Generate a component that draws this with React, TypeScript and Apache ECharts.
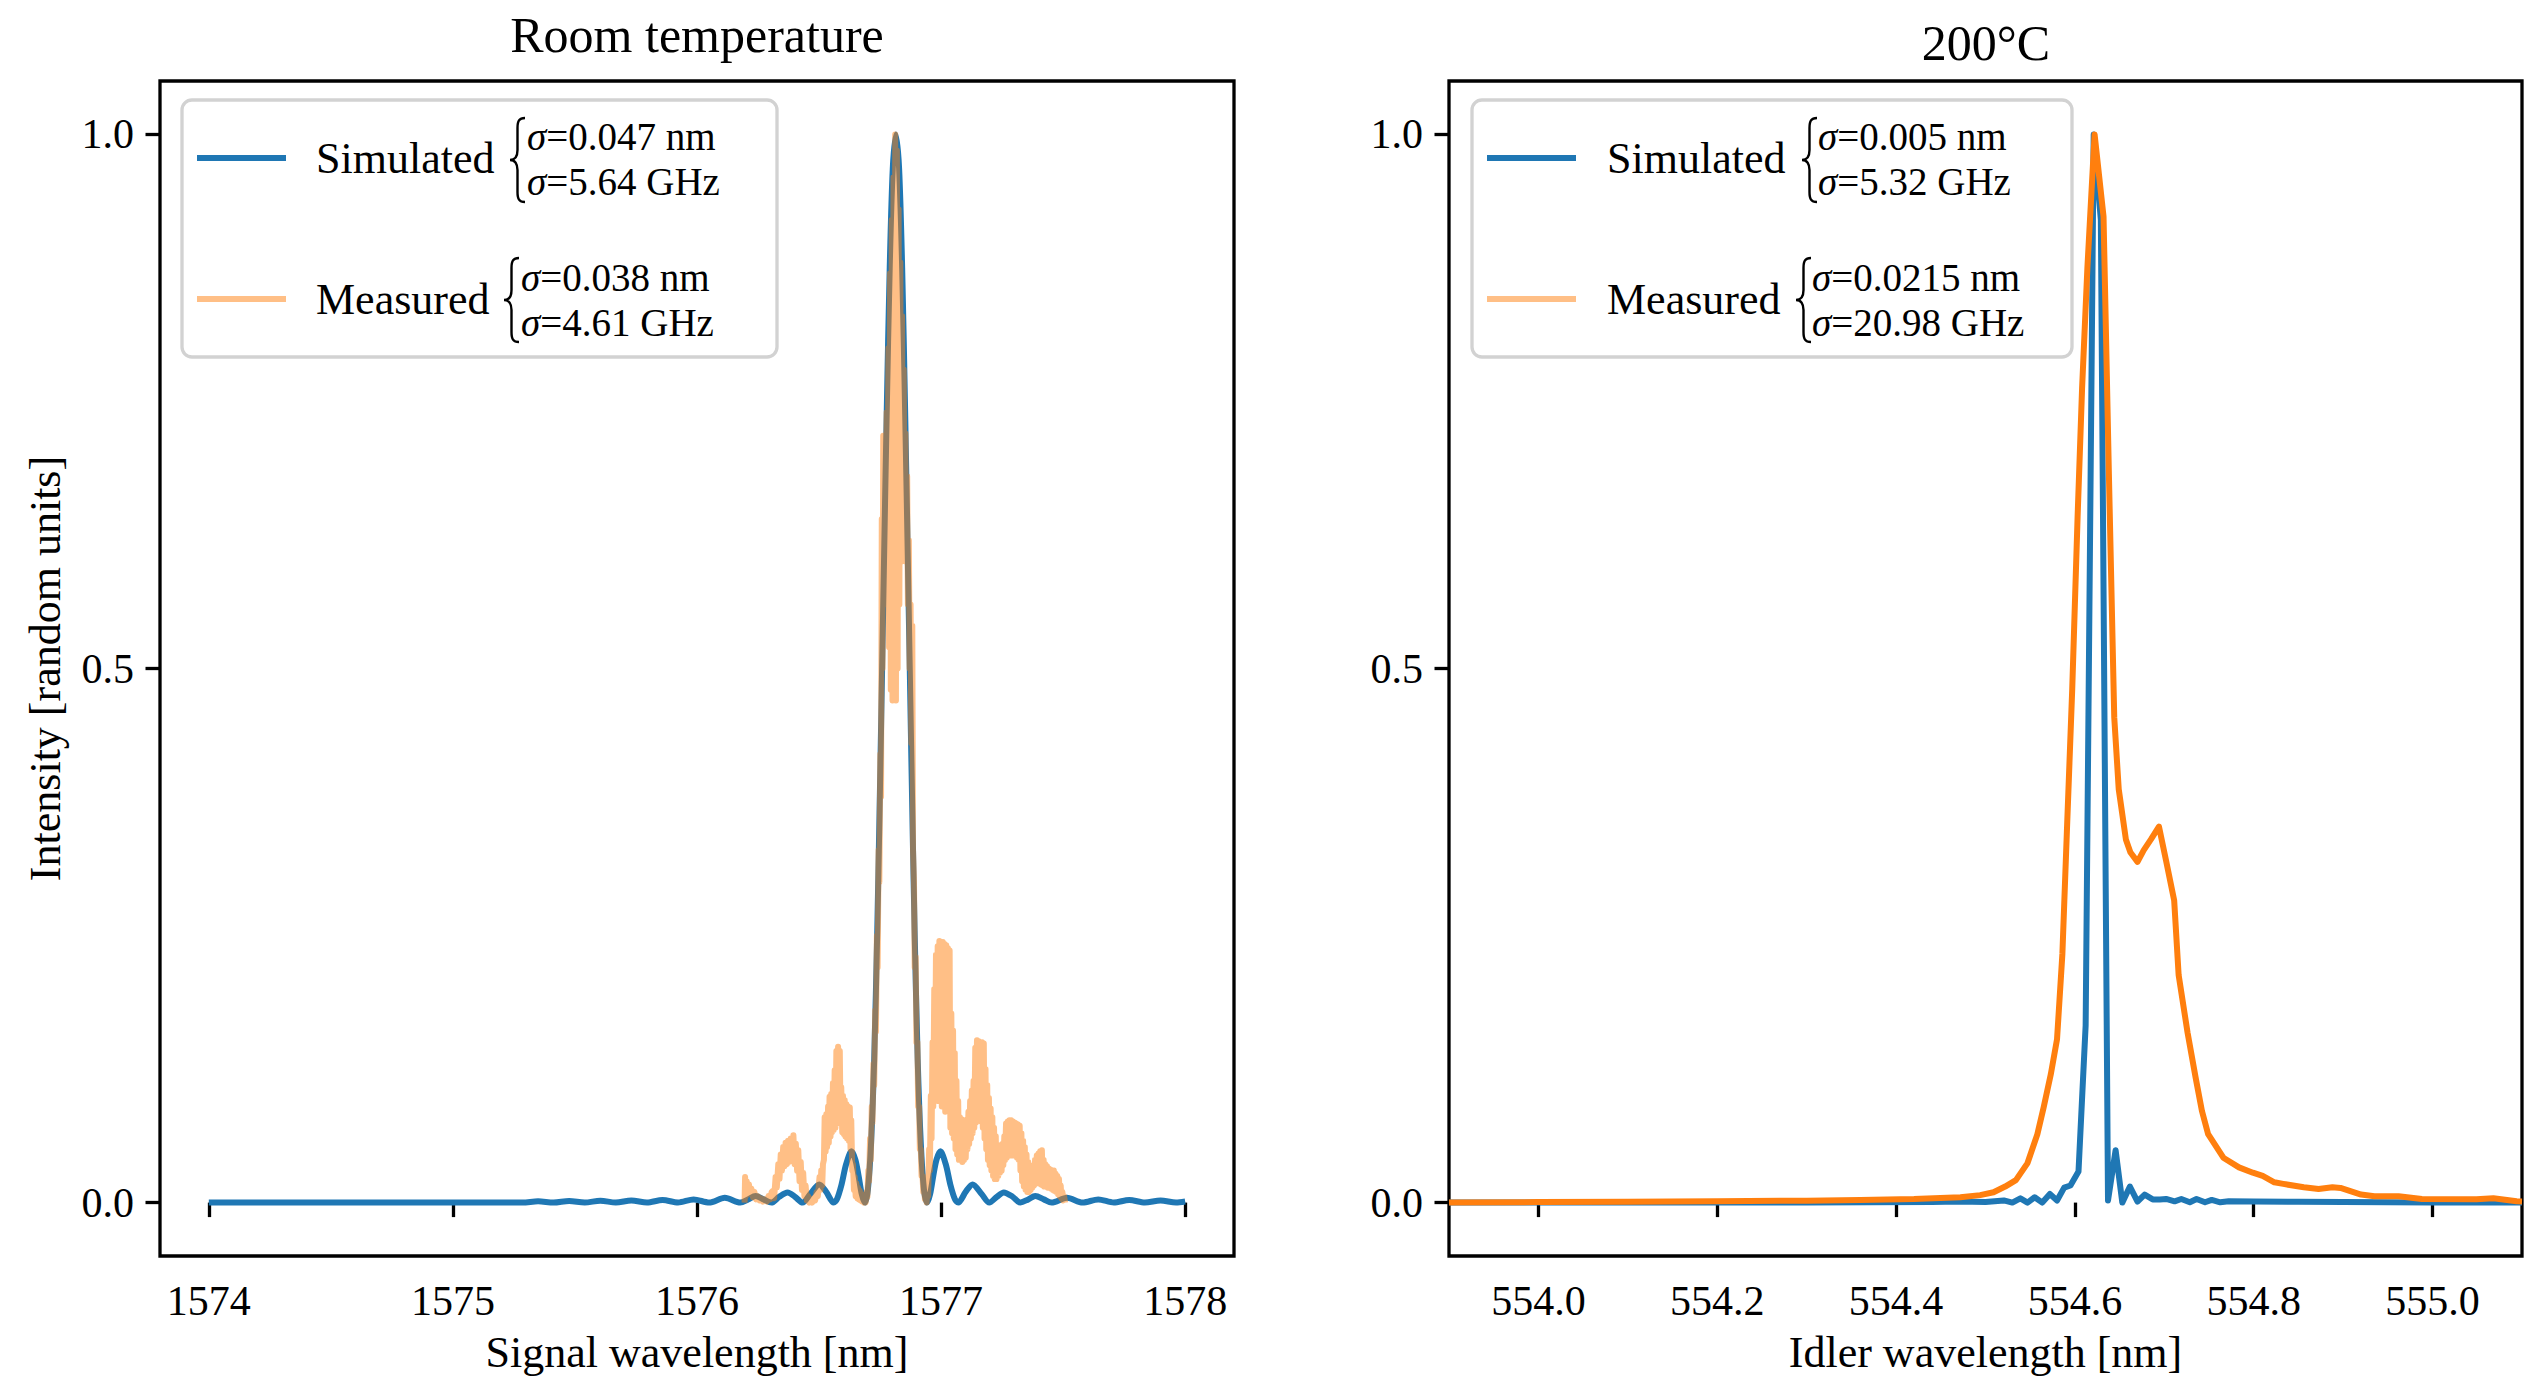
import React, { useEffect, useRef } from "react";
import * as echarts from "echarts";

const FONT = "'Liberation Serif', 'Times New Roman', serif";
const BLUE = "#1f77b4";
const ORANGE = "#ff7f0e";
const ORANGE_LIGHT = "rgba(255,127,14,0.5)";

const titles = ["Room temperature", "200°C"];
const xNames = ["Signal wavelength [nm]", "Idler wavelength [nm]"];
const yName = "Intensity [random units]";
const leftXTicks = [1574, 1575, 1576, 1577, 1578];
const rightXTicks = [554.0, 554.2, 554.4, 554.6, 554.8, 555.0];
const yTicks = [0, 0.5, 1.0];

const legendLeft = {
  sim: ["σ", "=0.047 nm", "=5.64 GHz"],
  meas: ["σ", "=0.038 nm", "=4.61 GHz"],
};
const legendRight = {
  sim: ["σ", "=0.005 nm", "=5.32 GHz"],
  meas: ["σ", "=0.0215 nm", "=20.98 GHz"],
};

// Left panel: simulated (wavelength, intensity)
const simLeft: [number, number][] = [
  [1574.0, 0], [1574.5, 0], [1575.0, 0], [1575.22, 0], [1575.285, 0],
  [1575.349, 0.0012], [1575.4125, 0], [1575.476, 0.0015], [1575.54, 0],
  [1575.604, 0.0018], [1575.6675, 0], [1575.731, 0.002], [1575.795, 0],
  [1575.859, 0.0025], [1575.9225, 0], [1575.986, 0.003], [1576.05, 0],
  [1576.114, 0.0045], [1576.1775, 0], [1576.209, 0.003], [1576.24, 0.0062],
  [1576.273, 0.003], [1576.305, 0], [1576.337, 0.0055], [1576.371, 0.0095],
  [1576.401, 0.0055], [1576.4325, 0], [1576.464, 0.008], [1576.501, 0.017],
  [1576.528, 0.0105], [1576.56, 0], [1576.573, 0.003], [1576.592, 0.0168],
  [1576.611, 0.036], [1576.633, 0.048], [1576.649, 0.04], [1576.662, 0.025],
  [1576.675, 0.008], [1576.6875, 0], [1576.7, 0.0119], [1576.713, 0.0547],
  [1576.726, 0.135], [1576.7385, 0.255], [1576.751, 0.405], [1576.764, 0.573],
  [1576.777, 0.737], [1576.7895, 0.875], [1576.802, 0.968], [1576.815, 1.0],
  [1576.828, 0.968], [1576.8405, 0.875], [1576.853, 0.737], [1576.866, 0.573],
  [1576.879, 0.405], [1576.8915, 0.255], [1576.904, 0.135], [1576.917, 0.0547],
  [1576.93, 0.0119], [1576.9425, 0], [1576.955, 0.008], [1576.968, 0.025],
  [1576.981, 0.04], [1576.997, 0.048], [1577.019, 0.036], [1577.038, 0.0168],
  [1577.057, 0.003], [1577.07, 0], [1577.102, 0.0105], [1577.129, 0.017],
  [1577.166, 0.008], [1577.1975, 0], [1577.229, 0.0055], [1577.257, 0.0095],
  [1577.293, 0.0055], [1577.325, 0], [1577.357, 0.003], [1577.386, 0.0062],
  [1577.421, 0.003], [1577.4525, 0], [1577.516, 0.0045], [1577.58, 0],
  [1577.644, 0.003], [1577.7075, 0], [1577.771, 0.0025], [1577.835, 0],
  [1577.899, 0.002], [1577.9625, 0], [1578.0, 0.001],
];

// Left panel: measured (noisy) spectrum
const measLeft: [number, number][] = [
  [1576.195, 0.0], [1576.197, 0.024], [1576.2, 0.006], [1576.204, 0.02], [1576.208, 0.01],
  [1576.213, 0.017], [1576.218, 0.008], [1576.223, 0.013], [1576.229, 0.005], [1576.235, 0.01],
  [1576.242, 0.003], [1576.249, 0.006], [1576.256, 0.002], [1576.263, 0.004], [1576.27, 0.001],
  [1576.278, 0.003], [1576.286, 0.001], [1576.293, 0.006], [1576.3, 0.003], [1576.306, 0.01],
  [1576.311, 0.011], [1576.316, 0.004], [1576.322, 0.024], [1576.327, 0.014], [1576.333, 0.036],
  [1576.338, 0.022], [1576.343, 0.045], [1576.348, 0.03], [1576.353, 0.052], [1576.358, 0.034],
  [1576.363, 0.056], [1576.368, 0.036], [1576.373, 0.058], [1576.378, 0.038], [1576.384, 0.06],
  [1576.389, 0.04], [1576.395, 0.063], [1576.4, 0.036], [1576.405, 0.055], [1576.41, 0.03],
  [1576.415, 0.049], [1576.42, 0.02], [1576.425, 0.038], [1576.43, 0.012], [1576.435, 0.028],
  [1576.44, 0.006], [1576.445, 0.016], [1576.45, 0.002], [1576.455, 0.006], [1576.46, 0.0],
  [1576.466, 0.003], [1576.472, 0.0], [1576.478, 0.004], [1576.484, 0.002], [1576.49, 0.01],
  [1576.495, 0.006], [1576.502, 0.024], [1576.506, 0.012], [1576.509, 0.03], [1576.513, 0.016],
  [1576.516, 0.036], [1576.52, 0.04], [1576.523, 0.08], [1576.527, 0.048], [1576.53, 0.083],
  [1576.533, 0.052], [1576.537, 0.09], [1576.54, 0.056], [1576.543, 0.099], [1576.547, 0.062],
  [1576.55, 0.102], [1576.553, 0.066], [1576.557, 0.112], [1576.56, 0.068], [1576.564, 0.124],
  [1576.567, 0.07], [1576.571, 0.142], [1576.574, 0.074], [1576.578, 0.146], [1576.581, 0.076],
  [1576.585, 0.142], [1576.588, 0.08], [1576.591, 0.108], [1576.595, 0.066], [1576.598, 0.1],
  [1576.602, 0.064], [1576.605, 0.096], [1576.608, 0.062], [1576.612, 0.092], [1576.615, 0.06],
  [1576.619, 0.09], [1576.622, 0.058], [1576.626, 0.089], [1576.629, 0.05], [1576.632, 0.077],
  [1576.636, 0.03], [1576.639, 0.036], [1576.643, 0.012], [1576.646, 0.024], [1576.65, 0.006],
  [1576.653, 0.018], [1576.657, 0.004], [1576.66, 0.014], [1576.664, 0.003], [1576.667, 0.011],
  [1576.67, 0.002], [1576.673, 0.008], [1576.677, 0.001], [1576.68, 0.004], [1576.684, 0.0],
  [1576.688, 0.004], [1576.691, 0.0], [1576.695, 0.01], [1576.698, 0.005], [1576.702, 0.03],
  [1576.705, 0.02], [1576.709, 0.06], [1576.712, 0.04], [1576.716, 0.09], [1576.719, 0.075],
  [1576.723, 0.13], [1576.726, 0.11], [1576.73, 0.18], [1576.733, 0.16], [1576.737, 0.25],
  [1576.74, 0.22], [1576.744, 0.33], [1576.747, 0.3], [1576.751, 0.42], [1576.754, 0.38],
  [1576.757, 0.64], [1576.76, 0.5], [1576.763, 0.718], [1576.766, 0.56], [1576.77, 0.68],
  [1576.773, 0.59], [1576.777, 0.74], [1576.78, 0.56], [1576.784, 0.8], [1576.787, 0.52],
  [1576.791, 0.87], [1576.794, 0.48], [1576.798, 0.92], [1576.801, 0.47], [1576.805, 0.96],
  [1576.808, 0.48], [1576.812, 1.0], [1576.815, 0.47], [1576.819, 0.985], [1576.822, 0.5],
  [1576.826, 0.93], [1576.829, 0.56], [1576.833, 0.88], [1576.836, 0.6], [1576.84, 0.83],
  [1576.843, 0.64], [1576.847, 0.78], [1576.85, 0.62], [1576.854, 0.72], [1576.857, 0.6],
  [1576.861, 0.68], [1576.864, 0.56], [1576.868, 0.62], [1576.871, 0.5], [1576.875, 0.56],
  [1576.878, 0.43], [1576.882, 0.54], [1576.885, 0.33], [1576.889, 0.3], [1576.892, 0.22],
  [1576.896, 0.23], [1576.899, 0.15], [1576.903, 0.15], [1576.906, 0.09], [1576.91, 0.09],
  [1576.913, 0.05], [1576.917, 0.05], [1576.92, 0.025], [1576.924, 0.025], [1576.927, 0.01],
  [1576.931, 0.012], [1576.934, 0.003], [1576.938, 0.005], [1576.941, 0.0], [1576.944, 0.017],
  [1576.947, 0.006], [1576.951, 0.05], [1576.954, 0.03], [1576.958, 0.1], [1576.961, 0.06],
  [1576.965, 0.15], [1576.968, 0.09], [1576.972, 0.2], [1576.975, 0.1], [1576.979, 0.232],
  [1576.982, 0.11], [1576.986, 0.24], [1576.989, 0.095], [1576.993, 0.245], [1576.996, 0.1],
  [1577.0, 0.244], [1577.003, 0.09], [1577.007, 0.244], [1577.01, 0.1], [1577.014, 0.242],
  [1577.017, 0.085], [1577.021, 0.241], [1577.024, 0.09], [1577.028, 0.238], [1577.031, 0.095],
  [1577.035, 0.236], [1577.038, 0.07], [1577.042, 0.177], [1577.045, 0.065], [1577.049, 0.161],
  [1577.052, 0.06], [1577.056, 0.14], [1577.059, 0.05], [1577.063, 0.114], [1577.066, 0.045],
  [1577.07, 0.095], [1577.073, 0.04], [1577.077, 0.08], [1577.08, 0.04], [1577.084, 0.078],
  [1577.087, 0.038], [1577.091, 0.077], [1577.094, 0.04], [1577.098, 0.077], [1577.101, 0.042],
  [1577.105, 0.077], [1577.108, 0.05], [1577.112, 0.085], [1577.115, 0.055], [1577.119, 0.095],
  [1577.122, 0.06], [1577.126, 0.105], [1577.129, 0.065], [1577.133, 0.114], [1577.136, 0.07],
  [1577.14, 0.145], [1577.143, 0.075], [1577.147, 0.152], [1577.15, 0.08], [1577.154, 0.151],
  [1577.157, 0.078], [1577.161, 0.15], [1577.164, 0.076], [1577.168, 0.15], [1577.171, 0.07],
  [1577.175, 0.149], [1577.178, 0.06], [1577.182, 0.125], [1577.185, 0.05], [1577.189, 0.11],
  [1577.192, 0.04], [1577.196, 0.098], [1577.199, 0.035], [1577.203, 0.088], [1577.206, 0.03],
  [1577.21, 0.08], [1577.213, 0.025], [1577.217, 0.07], [1577.22, 0.022], [1577.224, 0.062],
  [1577.227, 0.022], [1577.231, 0.054], [1577.234, 0.025], [1577.238, 0.053], [1577.241, 0.028],
  [1577.245, 0.054], [1577.248, 0.03], [1577.252, 0.055], [1577.255, 0.035], [1577.259, 0.062],
  [1577.262, 0.04], [1577.266, 0.074], [1577.269, 0.042], [1577.273, 0.076], [1577.276, 0.045],
  [1577.28, 0.077], [1577.283, 0.045], [1577.287, 0.077], [1577.29, 0.044], [1577.294, 0.076],
  [1577.297, 0.045], [1577.301, 0.075], [1577.304, 0.044], [1577.308, 0.074], [1577.311, 0.042],
  [1577.315, 0.073], [1577.318, 0.04], [1577.322, 0.072], [1577.325, 0.03], [1577.329, 0.065],
  [1577.332, 0.02], [1577.336, 0.058], [1577.339, 0.015], [1577.343, 0.052], [1577.346, 0.012],
  [1577.35, 0.045], [1577.353, 0.01], [1577.357, 0.038], [1577.36, 0.01], [1577.364, 0.033],
  [1577.367, 0.012], [1577.371, 0.03], [1577.374, 0.014], [1577.378, 0.035], [1577.381, 0.016],
  [1577.385, 0.04], [1577.388, 0.018], [1577.392, 0.044], [1577.395, 0.018], [1577.399, 0.046],
  [1577.402, 0.018], [1577.406, 0.048], [1577.409, 0.017], [1577.413, 0.049], [1577.416, 0.016],
  [1577.42, 0.04], [1577.423, 0.015], [1577.427, 0.036], [1577.43, 0.015], [1577.434, 0.034],
  [1577.437, 0.014], [1577.441, 0.032], [1577.444, 0.014], [1577.448, 0.031], [1577.451, 0.013],
  [1577.455, 0.03], [1577.458, 0.012], [1577.462, 0.03], [1577.465, 0.011], [1577.469, 0.027],
  [1577.472, 0.01], [1577.476, 0.025], [1577.479, 0.008], [1577.483, 0.022], [1577.486, 0.006],
  [1577.49, 0.016], [1577.493, 0.004], [1577.497, 0.01], [1577.5, 0.002], [1577.504, 0.006],
  [1577.508, 0.0],
];

// Right panel: simulated
const simRight: [number, number][] = [
  [553.9, 0], [554.3, 0], [554.44, 0.0005], [554.47, 0.001], [554.5, 0.0005],
  [554.5205, 0.002], [554.53, 0], [554.539, 0.004], [554.547, 0], [554.555, 0.005],
  [554.5635, 0], [554.572, 0.008], [554.58, 0.002], [554.588, 0.014], [554.595, 0.016],
  [554.604, 0.029], [554.612, 0.166], [554.621, 1.0], [554.629, 0.92], [554.637, 0.002],
  [554.6455, 0.049], [554.653, 0], [554.6615, 0.015], [554.67, 0.001], [554.678, 0.0075],
  [554.687, 0.003], [554.695, 0.003], [554.702, 0.0034], [554.7115, 0.0012], [554.719, 0.0034],
  [554.7285, 0.0003], [554.736, 0.0034], [554.7455, 0.0003], [554.753, 0.0025], [554.7625, 0.0003],
  [554.772, 0.0012], [554.8, 0.001], [554.85, 0.0008], [554.95, 0.0003], [555.0, 0.0002],
  [555.1, 0],
];

// Right panel: measured
const measRight: [number, number][] = [
  [553.9, 0.0], [554.0, 0.0005], [554.1, 0.0008], [554.2, 0.0012], [554.3, 0.0018],
  [554.36, 0.0025], [554.42, 0.0033], [554.472, 0.005], [554.494, 0.007], [554.509, 0.0097],
  [554.522, 0.015], [554.534, 0.021], [554.547, 0.037], [554.558, 0.064], [554.565, 0.089],
  [554.573, 0.12], [554.58, 0.153], [554.586, 0.233], [554.591, 0.347], [554.597, 0.481],
  [554.603, 0.642], [554.608, 0.762], [554.614, 0.876], [554.622, 1.0], [554.632, 0.923],
  [554.638, 0.682], [554.644, 0.454], [554.649, 0.387], [554.657, 0.34], [554.662, 0.328],
  [554.67, 0.319], [554.677, 0.33], [554.685, 0.34], [554.694, 0.352], [554.702, 0.32],
  [554.711, 0.283], [554.716, 0.213], [554.726, 0.159], [554.735, 0.117], [554.742, 0.086],
  [554.749, 0.064], [554.766, 0.042], [554.7835, 0.033], [554.799, 0.028], [554.81, 0.025],
  [554.823, 0.019], [554.833, 0.0175], [554.856, 0.0144], [554.8725, 0.0128], [554.888, 0.0144],
  [554.897, 0.0137], [554.92, 0.0075], [554.935, 0.006], [554.962, 0.006], [554.988, 0.0034],
  [555.049, 0.0031], [555.068, 0.004], [555.094, 0.0012], [555.1, 0.001],
];

const BRACE_D =
  "M15,0 C9,0 7.5,3 7.5,10 L7.5,32 C7.5,38 5,42 0,42 C5,42 7.5,46 7.5,52 L7.5,74 C7.5,81 9,84 15,84";
echarts.graphic.registerShape("lbrace", echarts.graphic.extendPath(BRACE_D, {}));

const SIG_SIZE = 39;

function txt(x: number, y: number, text: string, size: number, align = "left", rich?: any, lineHeight?: number) {
  return {
    type: "text",
    x,
    y,
    silent: true,
    style: {
      text,
      fill: "#000",
      font: `${size}px ${FONT}`,
      fontFamily: FONT,
      fontSize: size,
      lineHeight: lineHeight || size,
      align,
      textAlign: align,
      verticalAlign: "middle",
      textVerticalAlign: "middle",
      rich,
    },
  };
}

function sigma(x: number, y: number, rest: string) {
  const rich = {
    s: { fontStyle: "italic", fontSize: SIG_SIZE, fontFamily: FONT, fill: "#000", lineHeight: 34 },
    n: { fontSize: SIG_SIZE, fontFamily: FONT, fill: "#000", lineHeight: 34 },
  };
  return txt(x, y, `{s|σ}{n|${rest}}`, SIG_SIZE, "left", rich, 34);
}

function brace(x: number, y: number) {
  return {
    type: "lbrace",
    x,
    y,
    silent: true,
    style: { stroke: "#000", fill: "none", lineWidth: 2.4 },
  };
}

function legendBox(
  bx: number,
  bw: number,
  hx: number,
  tx: number,
  simBrace: number,
  simText: number,
  measBrace: number,
  measText: number,
  lab: { sim: string[]; meas: string[] }
) {
  return [
    {
      type: "rect",
      silent: true,
      shape: { x: bx, y: 100, width: bw, height: 257, r: 10 },
      style: { fill: "rgba(255,255,255,0.8)", stroke: "#d2d2d2", lineWidth: 3.3 },
    },
    {
      type: "line",
      silent: true,
      shape: { x1: hx, y1: 158, x2: hx + 89, y2: 158 },
      style: { stroke: BLUE, lineWidth: 6 },
    },
    {
      type: "line",
      silent: true,
      shape: { x1: hx, y1: 299, x2: hx + 89, y2: 299 },
      style: { stroke: ORANGE_LIGHT, lineWidth: 6 },
    },
    txt(tx, 158, "Simulated", 44),
    brace(simBrace, 118),
    sigma(simText, 136, lab.sim[1]),
    sigma(simText, 181, lab.sim[2]),
    txt(tx, 299, "Measured", 44),
    brace(measBrace, 258),
    sigma(measText, 277, lab.meas[1]),
    sigma(measText, 322, lab.meas[2]),
  ];
}

const axisText = { fontFamily: FONT, fontSize: 42, color: "#000" };

function xAxisCfg(idx: number, min: number, max: number, ticks: number[], name: string, digits: number) {
  return {
    type: "value",
    gridIndex: idx,
    min,
    max,
    name,
    nameLocation: "middle",
    nameGap: 74,
    nameTextStyle: { fontFamily: FONT, fontSize: 44, color: "#000" },
    axisLine: { show: false },
    splitLine: { show: false },
    axisTick: {
      show: true,
      inside: false,
      length: 14.5,
      customValues: ticks,
      lineStyle: { color: "#000", width: 3.3 },
    },
    axisLabel: {
      ...axisText,
      margin: 24,
      customValues: ticks,
      formatter: (v: number) => v.toFixed(digits),
    },
  };
}

function yAxisCfg(idx: number, name?: string) {
  return {
    type: "value",
    gridIndex: idx,
    min: -0.05,
    max: 1.05,
    name: name || "",
    nameLocation: "middle",
    nameGap: 93,
    nameRotate: 90,
    nameTextStyle: { fontFamily: FONT, fontSize: 44, color: "#000" },
    axisLine: { show: false },
    splitLine: { show: false },
    axisTick: {
      show: true,
      inside: false,
      length: 14.5,
      customValues: yTicks,
      lineStyle: { color: "#000", width: 3.3 },
    },
    axisLabel: {
      ...axisText,
      margin: 26,
      customValues: yTicks,
      formatter: (v: number) => v.toFixed(1),
    },
  };
}

function lineSeries(name: string, data: [number, number][], idx: number, color: string, z: number, smooth: number | boolean = false) {
  return {
    type: "line",
    name,
    data,
    xAxisIndex: idx,
    yAxisIndex: idx,
    showSymbol: false,
    symbol: "none",
    smooth,
    clip: true,
    silent: true,
    z,
    lineStyle: { color, width: 6, join: "round", cap: "butt" },
    itemStyle: { color },
    emphasis: { disabled: true },
  };
}

export default function App() {
  const ref = useRef<HTMLDivElement>(null);
  useEffect(() => {
    document.body.style.margin = "0";
    if (!ref.current) return;
    const chart = echarts.init(ref.current, null, { renderer: "svg" });
    const option: any = {
      animation: false,
      backgroundColor: "#ffffff",
      textStyle: { fontFamily: FONT, color: "#000" },
      grid: [
        { left: 160, top: 81, width: 1074, height: 1175, show: true, borderColor: "#000", borderWidth: 3.3, backgroundColor: "transparent", containLabel: false, outerBoundsMode: "none" },
        { left: 1449, top: 81, width: 1073, height: 1175, show: true, borderColor: "#000", borderWidth: 3.3, backgroundColor: "transparent", containLabel: false, outerBoundsMode: "none" },
      ],
      xAxis: [
        xAxisCfg(0, 1573.8, 1578.2, leftXTicks, xNames[0], 0),
        xAxisCfg(1, 553.9, 555.1, rightXTicks, xNames[1], 1),
      ],
      yAxis: [yAxisCfg(0, yName), yAxisCfg(1)],
      series: [
        lineSeries("Simulated", simLeft, 0, BLUE, 2, 0.3),
        lineSeries("Measured", measLeft, 0, ORANGE_LIGHT, 3),
        lineSeries("Simulated", simRight, 1, BLUE, 2),
        lineSeries("Measured", measRight, 1, ORANGE, 3),
      ],
      graphic: [
        txt(697, 35, titles[0], 50, "center"),
        txt(1986, 43, titles[1], 50, "center"),
        ...legendBox(182, 595, 197, 316, 510, 527, 504, 521, legendLeft),
        ...legendBox(1472, 600, 1487, 1607, 1802, 1818, 1796, 1812, legendRight),
      ],
    };
    chart.setOption(option);
    return () => chart.dispose();
  }, []);
  return <div ref={ref} style={{ width: 2548, height: 1399 }} />;
}
